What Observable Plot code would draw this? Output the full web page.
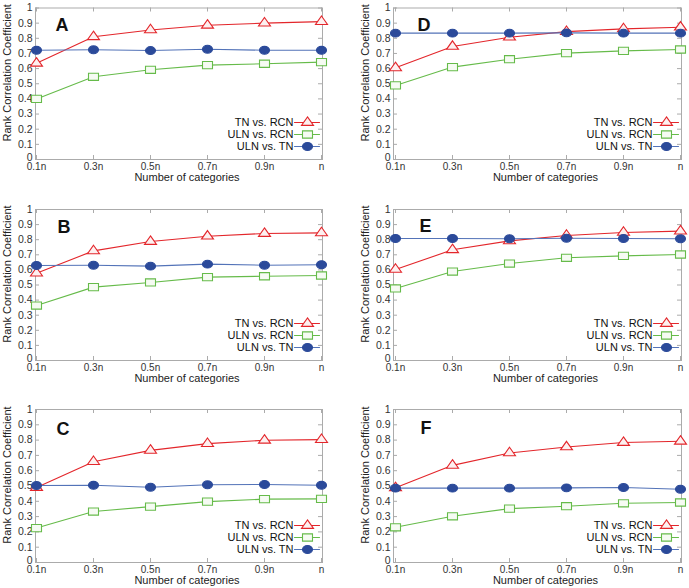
<!DOCTYPE html>
<html><head><meta charset="utf-8">
<script src="https://cdn.jsdelivr.net/npm/d3@7"></script>
<script src="https://cdn.jsdelivr.net/npm/@observablehq/plot@0.6"></script>
<style>
html,body{margin:0;padding:0;background:#fff}
body{width:689px;height:588px;overflow:hidden;position:relative;font-family:Arial,"Liberation Sans",sans-serif}
.panel{position:absolute}
</style></head><body>
<script>
// ---- data ----
const categories = ["0.1n","0.3n","0.5n","0.7n","0.9n","n"];
const seriesNames = ["TN vs. RCN","ULN vs. RCN","ULN vs. TN"];
const panelLetters = ["A","B","C","D","E","F"];
const yTicks = [0,0.1,0.2,0.3,0.4,0.5,0.6,0.7,0.8,0.9,1];
const yTickLabels = ["0","0.1","0.2","0.3","0.4","0.5","0.6","0.7","0.8","0.9","1"];
const xTitle = "Number of categories";
const yTitle = "Rank Correlation Coefficient";

const A_tnRcn  = [0.635, 0.81, 0.855, 0.886, 0.90, 0.91];
const A_ulnRcn = [0.40, 0.546, 0.592, 0.623, 0.632, 0.643];
const A_ulnTn  = [0.721, 0.724, 0.719, 0.728, 0.721, 0.721];
const B_tnRcn  = [0.578, 0.726, 0.788, 0.823, 0.841, 0.845];
const B_ulnRcn = [0.364, 0.486, 0.517, 0.552, 0.558, 0.563];
const B_ulnTn  = [0.629, 0.631, 0.625, 0.638, 0.631, 0.634];
const C_tnRcn  = [0.49, 0.659, 0.733, 0.777, 0.799, 0.803];
const C_ulnRcn = [0.225, 0.333, 0.365, 0.398, 0.414, 0.416];
const C_ulnTn  = [0.503, 0.505, 0.492, 0.508, 0.51, 0.505];
const D_tnRcn  = [0.605, 0.746, 0.807, 0.844, 0.862, 0.873];
const D_ulnRcn = [0.489, 0.61, 0.662, 0.702, 0.717, 0.726];
const D_ulnTn  = [0.834, 0.834, 0.834, 0.836, 0.834, 0.834];
const E_tnRcn  = [0.603, 0.733, 0.792, 0.828, 0.848, 0.857];
const E_ulnRcn = [0.477, 0.589, 0.642, 0.68, 0.693, 0.702];
const E_ulnTn  = [0.808, 0.808, 0.806, 0.81, 0.808, 0.806];
const F_tnRcn  = [0.488, 0.635, 0.716, 0.755, 0.784, 0.792];
const F_ulnRcn = [0.23, 0.302, 0.352, 0.368, 0.387, 0.392];
const F_ulnTn  = [0.486, 0.486, 0.486, 0.488, 0.49, 0.479];

const panelSeries = [
  [A_tnRcn, A_ulnRcn, A_ulnTn],
  [B_tnRcn, B_ulnRcn, B_ulnTn],
  [C_tnRcn, C_ulnRcn, C_ulnTn],
  [D_tnRcn, D_ulnRcn, D_ulnTn],
  [E_tnRcn, E_ulnRcn, E_ulnTn],
  [F_tnRcn, F_ulnRcn, F_ulnTn]
];

// ---- layout / style ----
const layout = [
  {left:0,   top:0,   height:190, mL:35, mR:23, mT:7.5, mB:31, ldx:20, ldy:10},
  {left:0,   top:200, height:190, mL:35, mR:23, mT:9,   mB:30, ldx:22, ldy:11},
  {left:0,   top:400, height:188, mL:35, mR:23, mT:9,   mB:26, ldx:21, ldy:13},
  {left:344, top:0,   height:190, mL:49, mR:8,  mT:7.5, mB:31, ldx:24, ldy:10},
  {left:344, top:200, height:190, mL:49, mR:8,  mT:9,   mB:30, ldx:26, ldy:10},
  {left:344, top:400, height:188, mL:49, mR:8,  mT:9,   mB:26, ldx:27, ldy:12}
];
const W = 345;
const lineColors = ["#e3262b", "#66bb4a", "#5373b8"];
const strokeColors = ["#e3262b", "#66bb4a", "#2b4a9a"];
const fillColors = ["#fdf0f0", "#f6fbf3", "#2b4a9a"];
const legendDy = [-37, -25, -13];

const triSym = {draw(c){ const w=6, h=8.5; c.moveTo(0,-h*2/3); c.lineTo(w,h/3); c.lineTo(-w,h/3); c.closePath(); }};
const sqSym = {draw(c){ c.rect(-5,-3.6,10,7.2); }};
const ellSym = {draw(c){ const rx=5, ry=3.9, k=0.5523;
  c.moveTo(rx,0);
  c.bezierCurveTo(rx, ry*k, rx*k, ry, 0, ry);
  c.bezierCurveTo(-rx*k, ry, -rx, ry*k, -rx, 0);
  c.bezierCurveTo(-rx, -ry*k, -rx*k, -ry, 0, -ry);
  c.bezierCurveTo(rx*k, -ry, rx, -ry*k, rx, 0);
  c.closePath(); }};
const symbols = [triSym, sqSym, ellSym];
const segShape = {draw(c, l){ c.moveTo(0,0); c.lineTo(0,-l); }};

const font = "Arial, 'Liberation Sans', sans-serif";
const yFmt = d => yTickLabels[yTicks.indexOf(d)];

panelSeries.forEach((series, p) => {
  const L = layout[p];
  const fw = W - L.mL - L.mR;
  const fh = L.height - L.mT - L.mB;
  const marks = [
    Plot.frame({stroke:"#ababab"}),
    Plot.tickX(categories, {x: d=>d, insetTop: fh-4, stroke:"#ababab"}),
    Plot.tickX(categories, {x: d=>d, insetBottom: fh-4, stroke:"#ababab"}),
    Plot.tickY(yTicks, {y: d=>d, insetRight: fw-4, stroke:"#ababab"}),
    Plot.tickY(yTicks, {y: d=>d, insetLeft: fw-4, stroke:"#ababab"}),
    Plot.axisX({tickSize:0, tickPadding:3.5, fontSize:10, label:null, fill:"#333"}),
    Plot.axisY(yTicks.slice(1), {tickSize:0, tickPadding:3, fontSize:10.5, label:null, fill:"#333", tickFormat: yFmt}),
    Plot.axisY(yTicks.slice(0, 1), {tickSize:0, tickPadding:3, fontSize:10.5, label:null, fill:"#333", tickFormat: yFmt, dy:-2}),
    Plot.text([yTitle], {x:null, y:null, text:d=>d, frameAnchor:"left", rotate:-90, dx:-32, dy:-11,
      textAnchor:"middle", lineAnchor:"top", fontSize:11, fill:"#222"}),
    Plot.text([xTitle], {x:null, y:null, text:d=>d, frameAnchor:"bottom", dx:8, dy:18,
      textAnchor:"middle", lineAnchor:"middle", fontSize:11, fill:"#222"}),
    Plot.text([panelLetters[p]], {x:null, y:null, text:d=>d, frameAnchor:"top-left", dx:L.ldx, dy:L.ldy,
      lineAnchor:"top", textAnchor:"start", fontSize:18, fontWeight:"bold", fill:"#111"})
  ];
  series.forEach((vals, s) => {
    const rows = vals.map((v, i) => ({cat: categories[i], v}));
    marks.push(Plot.line(rows, {x:"cat", y:"v", stroke: lineColors[s], strokeWidth:1.1}));
    marks.push(Plot.dot(rows, {x:"cat", y:"v", symbol: symbols[s], stroke: strokeColors[s],
      fill: fillColors[s], strokeWidth:1.1}));
    // legend entry
    marks.push(Plot.text([seriesNames[s]], {x:null, y:null, text:d=>d, frameAnchor:"bottom-right",
      dx:-29, dy:legendDy[s], textAnchor:"end", lineAnchor:"middle", fontSize:11, fill:"#111"}));
    marks.push(Plot.vector([0], {x:null, y:null, frameAnchor:"bottom-right", dx:-3, dy:legendDy[s],
      rotate:-90, length:25, anchor:"start", shape:segShape, stroke: lineColors[s], strokeWidth:1.1}));
    marks.push(Plot.dot([0], {x:null, y:null, frameAnchor:"bottom-right", dx:-15, dy:legendDy[s],
      symbol: symbols[s], stroke: strokeColors[s], fill: fillColors[s], strokeWidth:1.1}));
  });
  const chart = Plot.plot({
    width: W, height: L.height,
    marginLeft: L.mL, marginRight: L.mR, marginTop: L.mT, marginBottom: L.mB,
    x: {type:"point", domain: categories, padding: 0},
    y: {domain: [0, 1]},
    style: {fontFamily: font, background: "transparent", overflow: "visible", color: "#333"},
    marks
  });
  const div = document.createElement("div");
  div.className = "panel";
  div.style.left = L.left + "px";
  div.style.top = L.top + "px";
  div.appendChild(chart);
  document.body.appendChild(div);
});
</script>
</body></html>
